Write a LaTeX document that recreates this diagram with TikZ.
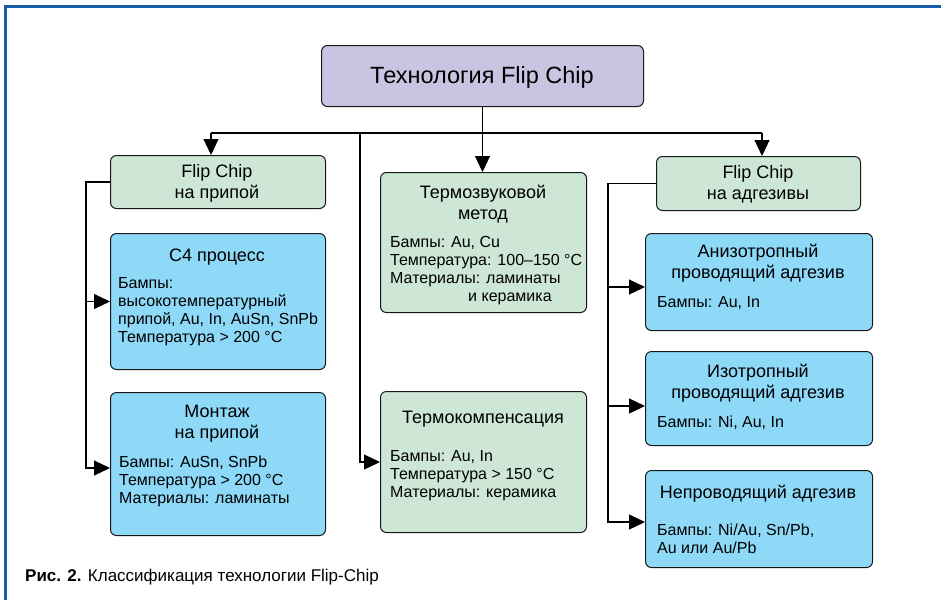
\documentclass[tikz,border=0pt]{standalone}
\usepackage{fontspec}
\setmainfont{Liberation Sans}
\usepackage{tikz}
\usetikzlibrary{arrows.meta, positioning, calc}
\definecolor{figFrame}{RGB}{22,92,168}
\definecolor{figTop}{RGB}{200,196,226}
\definecolor{figG}{RGB}{205,230,214}
\definecolor{figB}{RGB}{142,216,248}
\tikzset{
  box/.style={draw=black!90, line width=1pt, rounded corners=6pt, anchor=north west, inner sep=0pt},
  topbox/.style={box, fill=figTop},
  greenbox/.style={box, fill=figG},
  bluebox/.style={box, fill=figB},
  head/.style={font=\fontsize{18}{21.5}\selectfont, align=center, anchor=base, inner sep=0pt},
  body/.style={font=\fontsize{16}{18}\selectfont, align=left, anchor=base west, inner sep=0pt},
  arr/.style={-{Triangle[length=16pt,width=15pt]}, line width=1.1pt},
  link/.style={line width=1.1pt}
}

\begin{document}
\begin{tikzpicture}[x=1pt,y=-1pt]
\useasboundingbox (0,0) rectangle (941,600);
% frame
\draw[figFrame, line width=3pt] (5.5,600) -- (5.5,6.5) -- (941,6.5);
% top level
\node[topbox, minimum width=322pt, minimum height=61pt] (top) at (321,45) {};
\node[head, font=\fontsize{23.5}{28}\selectfont] (topT) at (482,83) {Технология Flip Chip};
% left column (base = last line)
\node[greenbox, minimum width=215pt, minimum height=53pt] (lg) at (110,155) {};
\node[head] (lgT) at (217,198.5) {Flip Chip\\на припой};
\node[bluebox, minimum width=215pt, minimum height=136pt] (c4) at (110,233) {};
\node[head] (c4T) at (217,261) {C4 процесс};
\node[body] (c4B) at (118,342) {Бампы:\\высокотемпературный\\припой, Au, In, AuSn, SnPb\\Температура > 200 °C};
\node[bluebox, minimum width=215pt, minimum height=143pt] (mt) at (110,392) {};
\node[head] (mtT) at (217,438.5) {Монтаж\\на припой};
\node[body] (mtB) at (119,503) {Бампы: AuSn, SnPb\\Температура > 200 °C\\Материалы: ламинаты};
% middle column
\node[greenbox, minimum width=206pt, minimum height=140pt] (tz) at (380,172) {};
\node[head] (tzT) at (483,219.5) {Термозвуковой\\метод};
\node[body] (tzB) at (390,301) {Бампы: Au, Cu\\Температура: 100--150 °C\\Материалы: ламинаты\\\hspace*{78pt}и керамика};
\node[greenbox, minimum width=206pt, minimum height=141pt] (tk) at (380,391) {};
\node[head] (tkT) at (483,423) {Термокомпенсация};
\node[body] (tkB) at (390,497) {Бампы: Au, In\\Температура > 150 °C\\Материалы: керамика};
% right column
\node[greenbox, minimum width=204pt, minimum height=54pt] (rg) at (656,156) {};
\node[head] (rgT) at (758,199.5) {Flip Chip\\на адгезивы};
\node[bluebox, minimum width=227pt, minimum height=97pt] (an) at (645,233) {};
\node[head] (anT) at (758,278.5) {Анизотропный\\проводящий адгезив};
\node[body] (anB) at (657,307) {Бампы: Au, In};
\node[bluebox, minimum width=227pt, minimum height=94pt] (iz) at (645,351) {};
\node[head] (izT) at (758,398.5) {Изотропный\\проводящий адгезив};
\node[body] (izB) at (657,427) {Бампы: Ni, Au, In};
\node[bluebox, minimum width=227pt, minimum height=97pt] (np) at (645,470) {};
\node[head] (npT) at (758,498) {Непроводящий адгезив};
\node[body] (npB) at (657,553) {Бампы: Ni/Au, Sn/Pb,\\Au или Au/Pb};
% caption
\node[anchor=base west, inner sep=0pt, font=\fontsize{17}{20}\selectfont] (cap) at (25,581)
  {\textbf{Рис. 2.} Классификация технологии Flip-Chip};
% connectors
\coordinate (busL) at (211,133);
\coordinate (busR) at (762,133);
\coordinate (busM) at (360,133);
\draw[link] (busL) -- (busR);
\draw[arr] (busL) -- (busL |- lg.north);
\draw[arr] (busR) -- (busR |- rg.north);
\draw[arr] (top.south) -- (top.south |- tz.north);
\draw[arr] (busM) |- (tk.west);
\coordinate (spL) at (86,468);
\draw[arr] (lg.west) -| (spL) -- (spL -| mt.west);
\draw[arr] (spL |- c4.west) -- (c4.west);
\coordinate (spR) at (608,522);
\draw[arr] (rg.west) -| (spR) -- (spR -| np.west);
\coordinate (jA) at (608,287);
\coordinate (jI) at (608,406);
\draw[arr] (jA) -- (jA -| an.west);
\draw[arr] (jI) -- (jI -| iz.west);
\end{tikzpicture}
\end{document}
